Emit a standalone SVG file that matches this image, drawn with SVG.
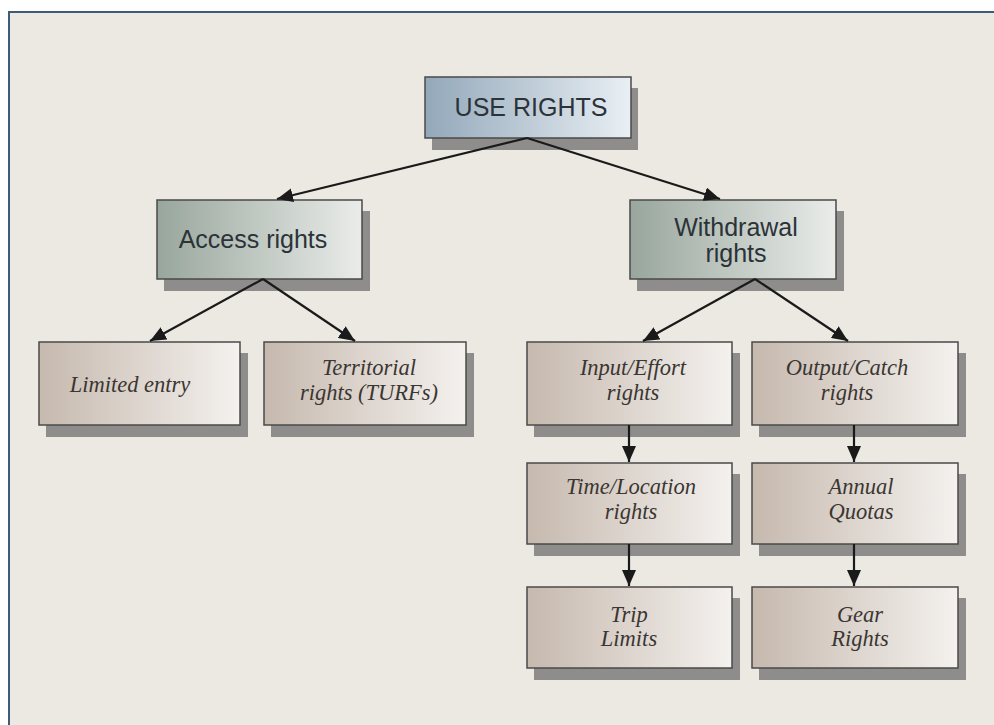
<svg xmlns="http://www.w3.org/2000/svg" width="994" height="725" viewBox="0 0 994 725">
<style>
.sh{fill:#8f8d8b}
.bx{stroke:#4a4a4a;stroke-width:1.5}
.sans{font-family:"Liberation Sans",Arial,sans-serif;font-size:25px;fill:#2b3338;text-anchor:middle}
.it{font-family:"Liberation Serif","Times New Roman",serif;font-style:italic;font-size:22.5px;fill:#3a3632;text-anchor:middle}
.ln{stroke:#1a1a1a;stroke-width:2.2;fill:none;marker-end:url(#ah)}
</style>
<defs>
<linearGradient id="gBlue" x1="0" y1="0" x2="1" y2="0">
<stop offset="0" stop-color="#93a8ba"/><stop offset="1" stop-color="#e9eff4"/>
</linearGradient>
<linearGradient id="gGreen" x1="0" y1="0" x2="1" y2="0">
<stop offset="0" stop-color="#98a69d"/><stop offset="1" stop-color="#eaece9"/>
</linearGradient>
<linearGradient id="gTaupe" x1="0" y1="0" x2="1" y2="0">
<stop offset="0" stop-color="#c6b9ae"/><stop offset="1" stop-color="#f4f1ee"/>
</linearGradient>
<marker id="ah" viewBox="0 0 16 14" refX="16" refY="7" markerWidth="16" markerHeight="14" markerUnits="userSpaceOnUse" orient="auto">
<path d="M0,0 L16,7 L0,14 Z" fill="#1a1a1a"/>
</marker>
</defs>
<rect x="0" y="0" width="994" height="725" fill="#ffffff"/>
<rect x="9" y="12" width="1000" height="800" fill="#ece9e3" stroke="#3e5b79" stroke-width="2"/>

<g id="use-rights">
<rect class="sh" x="432" y="88" width="206" height="62"/>
<rect class="bx" x="425" y="77" width="206" height="61" fill="url(#gBlue)"/>
<text class="sans" x="531" y="116">USE RIGHTS</text>
</g>

<g id="access-rights">
<rect class="sh" x="164" y="211" width="206" height="80"/>
<rect class="bx" x="157" y="200" width="205" height="79" fill="url(#gGreen)"/>
<text class="sans" x="253" y="248">Access rights</text>
</g>

<g id="withdrawal-rights">
<rect class="sh" x="637" y="211" width="207" height="80"/>
<rect class="bx" x="630" y="200" width="206" height="79" fill="url(#gGreen)"/>
<text class="sans" x="736" y="236">Withdrawal</text>
<text class="sans" x="736" y="262">rights</text>
</g>

<g id="limited-entry">
<rect class="sh" x="46" y="353" width="202" height="84"/>
<rect class="bx" x="39" y="342" width="201" height="83" fill="url(#gTaupe)"/>
<text class="it" x="130" y="392">Limited entry</text>
</g>

<g id="territorial-rights">
<rect class="sh" x="271" y="353" width="203" height="84"/>
<rect class="bx" x="264" y="342" width="202" height="83" fill="url(#gTaupe)"/>
<text class="it" x="369" y="375">Territorial</text>
<text class="it" x="369" y="400">rights (TURFs)</text>
</g>

<g id="input-effort">
<rect class="sh" x="534" y="353" width="206" height="84"/>
<rect class="bx" x="527" y="342" width="205" height="83" fill="url(#gTaupe)"/>
<text class="it" x="633" y="375">Input/Effort</text>
<text class="it" x="633" y="400">rights</text>
</g>

<g id="output-catch">
<rect class="sh" x="759" y="353" width="207" height="84"/>
<rect class="bx" x="752" y="342" width="206" height="83" fill="url(#gTaupe)"/>
<text class="it" x="847" y="375">Output/Catch</text>
<text class="it" x="847" y="400">rights</text>
</g>

<g id="time-location">
<rect class="sh" x="534" y="474" width="206" height="82"/>
<rect class="bx" x="527" y="463" width="205" height="81" fill="url(#gTaupe)"/>
<text class="it" x="631" y="494">Time/Location</text>
<text class="it" x="631" y="519">rights</text>
</g>

<g id="annual-quotas">
<rect class="sh" x="759" y="474" width="207" height="82"/>
<rect class="bx" x="752" y="463" width="206" height="81" fill="url(#gTaupe)"/>
<text class="it" x="861" y="494">Annual</text>
<text class="it" x="861" y="519">Quotas</text>
</g>

<g id="trip-limits">
<rect class="sh" x="534" y="598" width="206" height="82"/>
<rect class="bx" x="527" y="587" width="205" height="81" fill="url(#gTaupe)"/>
<text class="it" x="629" y="622">Trip</text>
<text class="it" x="629" y="646">Limits</text>
</g>

<g id="gear-rights">
<rect class="sh" x="759" y="598" width="207" height="82"/>
<rect class="bx" x="752" y="587" width="206" height="81" fill="url(#gTaupe)"/>
<text class="it" x="860" y="622">Gear</text>
<text class="it" x="860" y="646">Rights</text>
</g>

<g id="connectors">
<line class="ln" x1="527" y1="138" x2="277" y2="199"/>
<line class="ln" x1="527" y1="138" x2="720" y2="199"/>
<line class="ln" x1="263" y1="279" x2="150" y2="341"/>
<line class="ln" x1="263" y1="279" x2="355" y2="341"/>
<line class="ln" x1="755" y1="279" x2="643" y2="341"/>
<line class="ln" x1="755" y1="279" x2="848" y2="341"/>
<line class="ln" x1="629" y1="425" x2="629" y2="462"/>
<line class="ln" x1="854" y1="425" x2="854" y2="462"/>
<line class="ln" x1="629" y1="544" x2="629" y2="586"/>
<line class="ln" x1="854" y1="544" x2="854" y2="586"/>
</g>
</svg>
